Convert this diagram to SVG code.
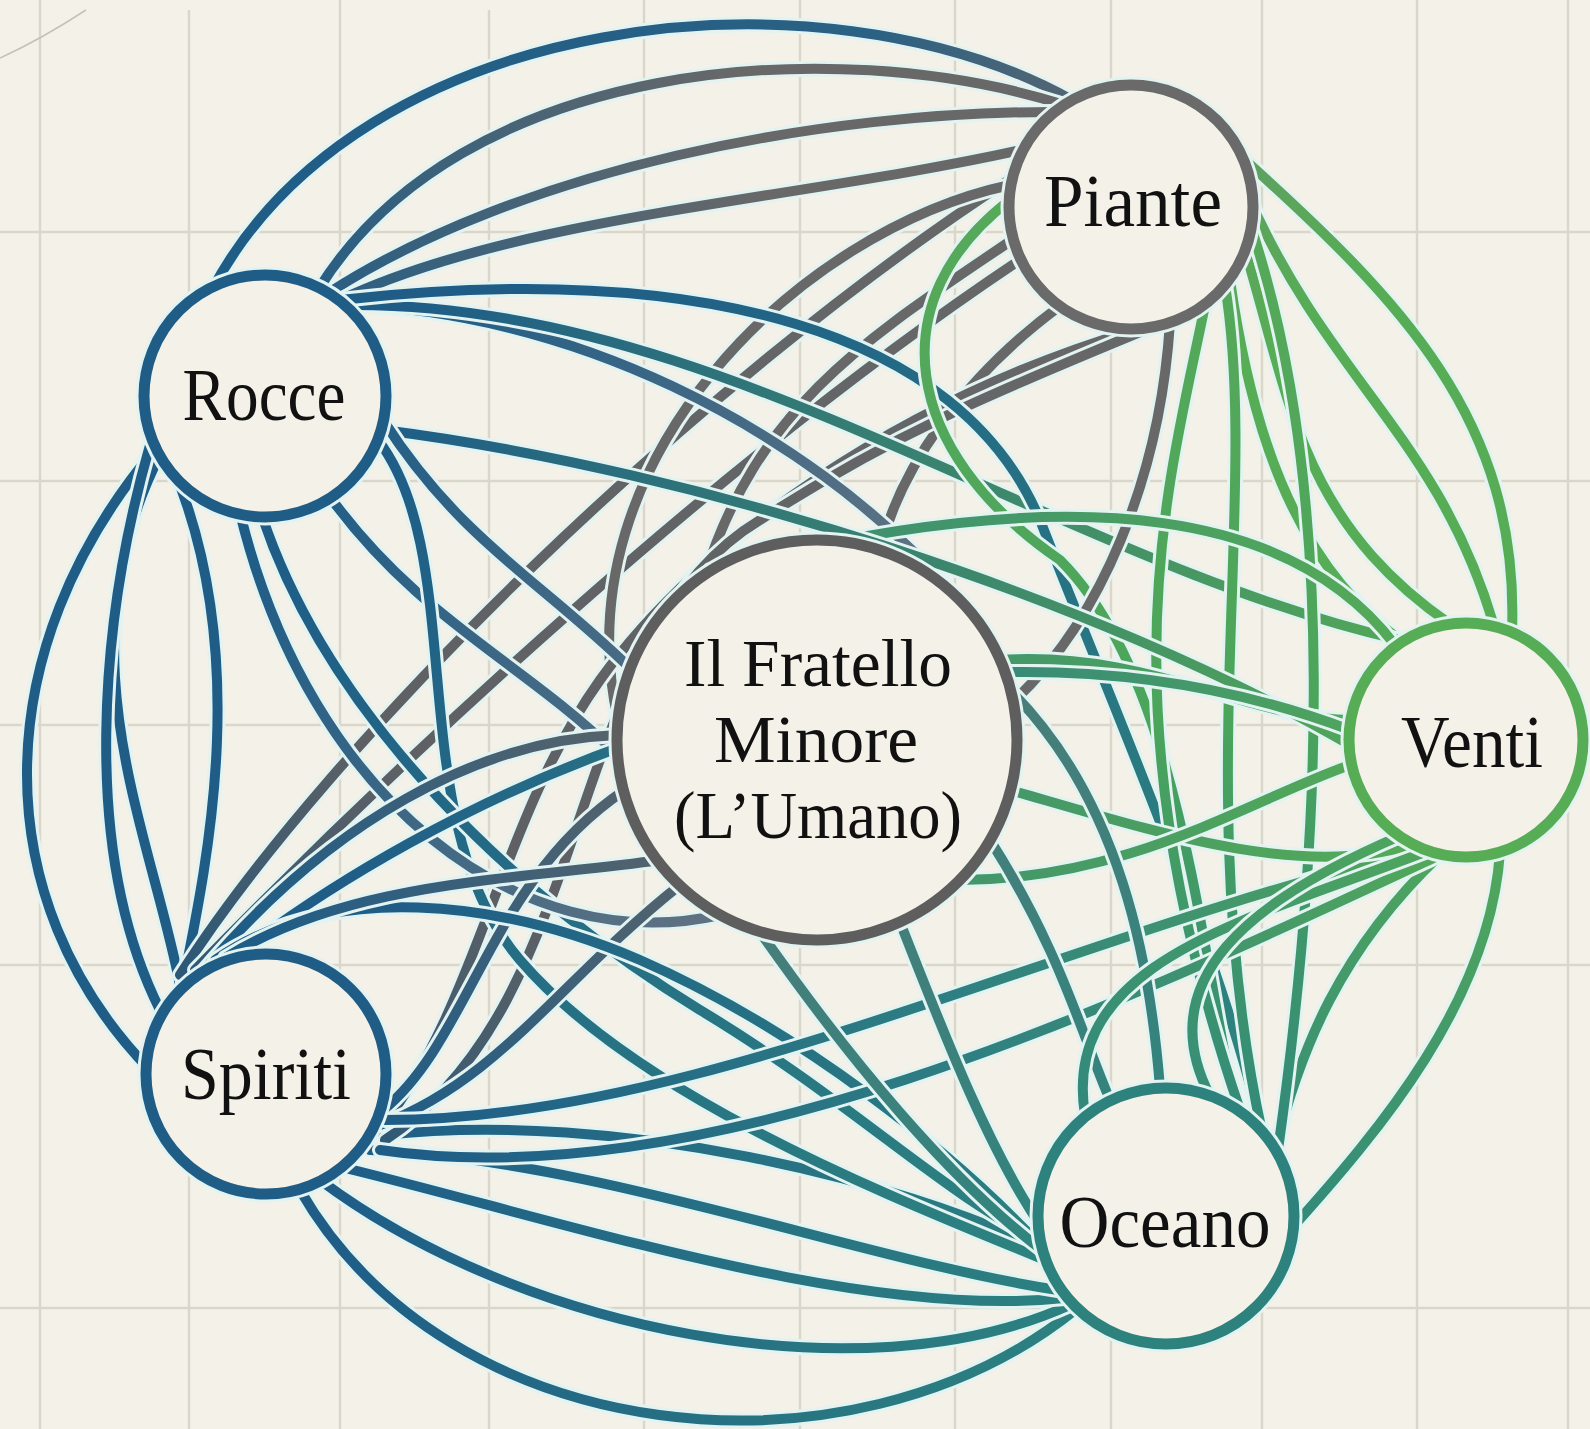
<svg xmlns="http://www.w3.org/2000/svg" width="1590" height="1429" viewBox="0 0 1590 1429">
<style>
.grid line{stroke:#d9d6cb;stroke-width:2.5}
.h{fill:none;stroke:#e3f3f1;stroke-width:16;stroke-linecap:round}
.s{fill:none;stroke-width:10;stroke-linecap:round}
.halo{fill:none;stroke:#e3f3f1;stroke-width:17}
.ring{fill:#f4f2e8;stroke-width:11}
.lbl{font-family:"Liberation Serif","Times New Roman",serif;font-size:74px;fill:#111;text-anchor:middle}
.cl{font-size:68px}
</style>
<defs>
<linearGradient id="gRP" gradientUnits="userSpaceOnUse" x1="265" y1="396" x2="1131" y2="207"><stop offset="0" stop-color="#1f5d87"/><stop offset="0.6" stop-color="#686868"/></linearGradient>
<linearGradient id="gRP2" gradientUnits="userSpaceOnUse" x1="265" y1="396" x2="1131" y2="207"><stop offset="0" stop-color="#1f5d87"/><stop offset="0.75" stop-color="#2a6184"/><stop offset="1" stop-color="#5a6670"/></linearGradient>
<linearGradient id="gRC" gradientUnits="userSpaceOnUse" x1="265" y1="396" x2="817" y2="740"><stop offset="0.1" stop-color="#1f5d87"/><stop offset="1" stop-color="#5f7282"/></linearGradient>
<linearGradient id="gRV" gradientUnits="userSpaceOnUse" x1="265" y1="396" x2="1466" y2="740"><stop offset="0.1" stop-color="#1f5d87"/><stop offset="1" stop-color="#57ad55"/></linearGradient>
<linearGradient id="gRO" gradientUnits="userSpaceOnUse" x1="265" y1="396" x2="1166" y2="1216"><stop offset="0.1" stop-color="#1f5d87"/><stop offset="1" stop-color="#2e857f"/></linearGradient>
<linearGradient id="gSO" gradientUnits="userSpaceOnUse" x1="266" y1="1074" x2="1166" y2="1216"><stop offset="0.1" stop-color="#1f5d87"/><stop offset="1" stop-color="#2e857f"/></linearGradient>
<linearGradient id="gSV" gradientUnits="userSpaceOnUse" x1="266" y1="1074" x2="1466" y2="740"><stop offset="0.1" stop-color="#1f5d87"/><stop offset="0.55" stop-color="#2e7f82"/><stop offset="1" stop-color="#57ad55"/></linearGradient>
<linearGradient id="gSC" gradientUnits="userSpaceOnUse" x1="266" y1="1074" x2="817" y2="740"><stop offset="0.1" stop-color="#1f5d87"/><stop offset="0.9" stop-color="#646464"/></linearGradient>
<linearGradient id="gSP" gradientUnits="userSpaceOnUse" x1="266" y1="1074" x2="1131" y2="207"><stop offset="0" stop-color="#2a5878"/><stop offset="0.25" stop-color="#5e6064"/><stop offset="1" stop-color="#686868"/></linearGradient>
<linearGradient id="gPV" gradientUnits="userSpaceOnUse" x1="1131" y1="207" x2="1466" y2="740"><stop offset="0" stop-color="#5f9f62"/><stop offset="0.3" stop-color="#57ad55"/><stop offset="1" stop-color="#57ad55"/></linearGradient>
<linearGradient id="gPO" gradientUnits="userSpaceOnUse" x1="1131" y1="207" x2="1166" y2="1216"><stop offset="0" stop-color="#57a95a"/><stop offset="0.5" stop-color="#4ba55a"/><stop offset="1" stop-color="#2e857f"/></linearGradient>
<linearGradient id="gCV" gradientUnits="userSpaceOnUse" x1="817" y1="740" x2="1466" y2="740"><stop offset="0" stop-color="#3d8f70"/><stop offset="1" stop-color="#57ad55"/></linearGradient>
<linearGradient id="gCO" gradientUnits="userSpaceOnUse" x1="817" y1="740" x2="1166" y2="1216"><stop offset="0" stop-color="#4d7c78"/><stop offset="1" stop-color="#2e857f"/></linearGradient>
<linearGradient id="gVO" gradientUnits="userSpaceOnUse" x1="1466" y1="740" x2="1166" y2="1216"><stop offset="0" stop-color="#57ad55"/><stop offset="1" stop-color="#2e857f"/></linearGradient>

<path id="e1" d="M 212 290 C 360 10, 820 -40, 1072 100"/>
<path id="e2" d="M 318 290 C 460 60, 830 30, 1068 106"/>
<path id="e3" d="M 330 292 C 520 170, 820 110, 1064 112"/>
<path id="e4" d="M 340 300 C 520 215, 800 200, 1030 148"/>
<path id="e5" d="M 345 305 C 560 310, 800 420, 955 595"/>
<path id="e6" d="M 383 420 C 460 540, 540 580, 630 668"/>
<path id="e7" d="M 330 497 C 420 620, 520 660, 618 755"/>
<path id="e8" d="M 240 513 C 310 800, 520 960, 720 915"/>
<path id="e9" d="M 345 305 C 720 300, 1050 560, 1400 640"/>
<path id="e10" d="M 383 430 C 700 470, 1100 600, 1350 745"/>
<path id="e11" d="M 340 300 C 700 260, 960 330, 1040 520 C 1110 700, 1220 950, 1262 1132"/>
<path id="e12" d="M 378 440 C 470 560, 400 820, 520 960 C 640 1100, 900 1200, 1045 1260"/>
<path id="e13" d="M 262 516 C 330 720, 520 900, 700 1010 C 850 1100, 950 1200, 1040 1240"/>
<path id="e14" d="M 156 448 C -15 650, -15 900, 150 1070"/>
<path id="e15" d="M 160 455 C 60 650, 150 830, 180 985"/>
<path id="e16" d="M 172 465 C 250 650, 210 850, 183 983"/>
<path id="e17" d="M 150 445 C 100 620, 80 850, 160 1010"/>
<path id="e18" d="M 300 1190 C 450 1450, 850 1490, 1075 1310"/>
<path id="e19" d="M 320 1180 C 520 1330, 860 1400, 1070 1305"/>
<path id="e20" d="M 345 1168 C 560 1220, 860 1320, 1064 1298"/>
<path id="e21" d="M 370 1150 C 600 1160, 860 1260, 1058 1290"/>
<path id="e22" d="M 383 1135 C 620 1110, 900 1180, 1045 1250"/>
<path id="e23" d="M 385 1120 C 700 1120, 1050 940, 1420 850"/>
<path id="e24" d="M 380 1150 C 720 1200, 1150 990, 1440 855"/>
<path id="e25" d="M 200 985 C 420 800, 900 560, 1350 730"/>
<path id="e26" d="M 383 1110 C 470 1040, 490 880, 625 790"/>
<path id="e27" d="M 380 1125 C 500 1080, 560 980, 680 885"/>
<path id="e28" d="M 200 975 C 330 820, 480 740, 617 735"/>
<path id="e29" d="M 180 975 C 330 740, 700 380, 1012 178"/>
<path id="e30" d="M 195 970 C 400 760, 720 460, 1020 260"/>
<path id="e31" d="M 383 1125 C 480 1000, 500 820, 600 680 C 700 540, 900 400, 1135 330"/>
<path id="e32" d="M 385 1140 C 600 1000, 560 640, 760 520 C 900 430, 1000 390, 1150 328"/>
<path id="e33" d="M 1012 240 C 880 330, 760 400, 705 575"/>
<path id="e34" d="M 1170 322 C 1160 480, 1100 620, 1015 700"/>
<path id="e35" d="M 1060 306 C 960 380, 900 470, 880 550"/>
<path id="e36" d="M 618 720 C 560 460, 800 230, 1010 185"/>
<path id="e37" d="M 1245 160 C 1400 300, 1520 420, 1512 632"/>
<path id="e38" d="M 1250 200 C 1330 380, 1440 440, 1494 626"/>
<path id="e39" d="M 1245 250 C 1290 400, 1300 520, 1450 624"/>
<path id="e40" d="M 1230 280 C 1250 420, 1290 560, 1400 640"/>
<path id="e41" d="M 1225 285 C 1260 500, 1190 800, 1262 1132"/>
<path id="e42" d="M 1205 305 C 1170 480, 1100 700, 1240 1110"/>
<path id="e43" d="M 1252 230 C 1340 500, 1320 850, 1278 1150"/>
<path id="e44" d="M 1010 200 C 880 300, 900 450, 1060 560 C 1180 680, 1200 950, 1235 1105"/>
<path id="e45" d="M 1352 720 C 1250 720, 1150 650, 1000 660"/>
<path id="e46" d="M 1395 645 C 1300 520, 1100 470, 710 570"/>
<path id="e47" d="M 1410 845 C 1300 880, 1150 830, 1010 790"/>
<path id="e48" d="M 1350 765 C 1250 800, 1130 880, 960 880"/>
<path id="e49" d="M 990 840 C 1060 950, 1080 1030, 1110 1100"/>
<path id="e50" d="M 900 922 C 950 1050, 990 1150, 1040 1225"/>
<path id="e51" d="M 760 932 C 850 1060, 950 1180, 1042 1250"/>
<path id="e52" d="M 1010 690 C 1120 800, 1150 960, 1160 1088"/>
<path id="e53" d="M 1500 852 C 1490 1000, 1380 1130, 1292 1228"/>
<path id="e54" d="M 1440 855 C 1340 950, 1300 1050, 1275 1150"/>
<path id="e55" d="M 1430 850 C 1250 920, 1060 960, 1085 1115"/>
<path id="e56" d="M 1400 836 C 1250 900, 1150 980, 1210 1096"/>
<path id="e57" d="M 215 960 C 330 880, 500 900, 640 960 C 800 1030, 950 1150, 1040 1245"/>
<path id="e58" d="M 225 958 C 350 880, 520 880, 660 860"/>
</defs>

<rect width="1590" height="1429" fill="#f4f2e8"/>
<g class="grid">
<line x1="40" y1="0" x2="40" y2="1429"/><line x1="189" y1="10" x2="189" y2="1429"/><line x1="340" y1="0" x2="340" y2="1429"/><line x1="489" y1="10" x2="489" y2="1429"/><line x1="644" y1="0" x2="644" y2="1429"/><line x1="800" y1="0" x2="800" y2="1429"/><line x1="955" y1="0" x2="955" y2="1429"/><line x1="1111" y1="0" x2="1111" y2="1429"/><line x1="1262" y1="0" x2="1262" y2="1429"/><line x1="1417" y1="0" x2="1417" y2="1429"/><line x1="1568" y1="0" x2="1568" y2="1429"/>
<line x1="0" y1="232" x2="1590" y2="232"/><line x1="0" y1="481" x2="1590" y2="481"/><line x1="0" y1="725" x2="1590" y2="725"/><line x1="0" y1="965" x2="1590" y2="965"/><line x1="0" y1="1308" x2="1590" y2="1308"/>
</g>
<path d="M 0 58 Q 40 40 86 10" fill="none" stroke="#c4c1b6" stroke-width="1.5"/>

<g id="connectors">
<use href="#e1" class="h"/><use href="#e1" class="s" stroke="url(#gRP2)"/>
<use href="#e2" class="h"/><use href="#e2" class="s" stroke="url(#gRP)"/>
<use href="#e3" class="h"/><use href="#e3" class="s" stroke="url(#gRP)"/>
<use href="#e4" class="h"/><use href="#e4" class="s" stroke="url(#gRP)"/>
<use href="#e14" class="h"/><use href="#e14" class="s" stroke="#1f5d87"/>
<use href="#e15" class="h"/><use href="#e15" class="s" stroke="#1f5d87"/>
<use href="#e16" class="h"/><use href="#e16" class="s" stroke="#1f5d87"/>
<use href="#e17" class="h"/><use href="#e17" class="s" stroke="#1f5d87"/>
<use href="#e18" class="h"/><use href="#e18" class="s" stroke="url(#gSO)"/>
<use href="#e19" class="h"/><use href="#e19" class="s" stroke="url(#gSO)"/>
<use href="#e20" class="h"/><use href="#e20" class="s" stroke="url(#gSO)"/>
<use href="#e21" class="h"/><use href="#e21" class="s" stroke="url(#gSO)"/>
<use href="#e22" class="h"/><use href="#e22" class="s" stroke="url(#gSO)"/>
<use href="#e37" class="h"/><use href="#e37" class="s" stroke="url(#gPV)"/>
<use href="#e38" class="h"/><use href="#e38" class="s" stroke="url(#gPV)"/>
<use href="#e39" class="h"/><use href="#e39" class="s" stroke="url(#gPV)"/>
<use href="#e40" class="h"/><use href="#e40" class="s" stroke="url(#gPV)"/>
<use href="#e53" class="h"/><use href="#e53" class="s" stroke="url(#gVO)"/>
<use href="#e54" class="h"/><use href="#e54" class="s" stroke="url(#gVO)"/>
<use href="#e29" class="h"/><use href="#e29" class="s" stroke="url(#gSP)"/>
<use href="#e30" class="h"/><use href="#e30" class="s" stroke="url(#gSP)"/>
<use href="#e33" class="h"/><use href="#e33" class="s" stroke="#686868"/>
<use href="#e36" class="h"/><use href="#e36" class="s" stroke="#686868"/>
<use href="#e35" class="h"/><use href="#e35" class="s" stroke="#686868"/>
<use href="#e31" class="h"/><use href="#e31" class="s" stroke="url(#gSP)"/>
<use href="#e32" class="h"/><use href="#e32" class="s" stroke="url(#gSP)"/>
<use href="#e5" class="h"/><use href="#e5" class="s" stroke="url(#gRC)"/>
<use href="#e9" class="h"/><use href="#e9" class="s" stroke="url(#gRV)"/>
<use href="#e11" class="h"/><use href="#e11" class="s" stroke="url(#gRO)"/>
<use href="#e44" class="h"/><use href="#e44" class="s" stroke="url(#gPO)"/>
<use href="#e41" class="h"/><use href="#e41" class="s" stroke="url(#gPO)"/>
<use href="#e42" class="h"/><use href="#e42" class="s" stroke="url(#gPO)"/>
<use href="#e43" class="h"/><use href="#e43" class="s" stroke="url(#gPO)"/>
<use href="#e34" class="h"/><use href="#e34" class="s" stroke="#686868"/>
<use href="#e46" class="h"/><use href="#e46" class="s" stroke="url(#gCV)"/>
<use href="#e45" class="h"/><use href="#e45" class="s" stroke="url(#gCV)"/>
<use href="#e10" class="h"/><use href="#e10" class="s" stroke="url(#gRV)"/>
<use href="#e6" class="h"/><use href="#e6" class="s" stroke="url(#gRC)"/>
<use href="#e7" class="h"/><use href="#e7" class="s" stroke="url(#gRC)"/>
<use href="#e12" class="h"/><use href="#e12" class="s" stroke="url(#gRO)"/>
<use href="#e13" class="h"/><use href="#e13" class="s" stroke="url(#gRO)"/>
<use href="#e8" class="h"/><use href="#e8" class="s" stroke="url(#gRC)"/>
<use href="#e25" class="h"/><use href="#e25" class="s" stroke="url(#gSV)"/>
<use href="#e28" class="h"/><use href="#e28" class="s" stroke="url(#gSC)"/>
<use href="#e26" class="h"/><use href="#e26" class="s" stroke="url(#gSC)"/>
<use href="#e27" class="h"/><use href="#e27" class="s" stroke="url(#gSC)"/>
<use href="#e57" class="h"/><use href="#e57" class="s" stroke="url(#gSO)"/>
<use href="#e58" class="h"/><use href="#e58" class="s" stroke="url(#gSC)"/>
<use href="#e23" class="h"/><use href="#e23" class="s" stroke="url(#gSV)"/>
<use href="#e24" class="h"/><use href="#e24" class="s" stroke="url(#gSV)"/>
<use href="#e47" class="h"/><use href="#e47" class="s" stroke="url(#gCV)"/>
<use href="#e48" class="h"/><use href="#e48" class="s" stroke="url(#gCV)"/>
<use href="#e49" class="h"/><use href="#e49" class="s" stroke="url(#gCO)"/>
<use href="#e50" class="h"/><use href="#e50" class="s" stroke="url(#gCO)"/>
<use href="#e51" class="h"/><use href="#e51" class="s" stroke="url(#gCO)"/>
<use href="#e52" class="h"/><use href="#e52" class="s" stroke="url(#gCO)"/>
<use href="#e55" class="h"/><use href="#e55" class="s" stroke="url(#gVO)"/>
<use href="#e56" class="h"/><use href="#e56" class="s" stroke="url(#gVO)"/>
</g>

<g id="node-piante"><circle class="halo" cx="1131" cy="207" r="122"/><circle class="ring" cx="1131" cy="207" r="122" stroke="#6a6a6a"/><text class="lbl" x="1133" y="226" textLength="178" lengthAdjust="spacingAndGlyphs">Piante</text></g>
<g id="node-rocce"><circle class="halo" cx="265" cy="396" r="121"/><circle class="ring" cx="265" cy="396" r="121" stroke="#1f5d87"/><text class="lbl" x="264" y="420" textLength="163" lengthAdjust="spacingAndGlyphs">Rocce</text></g>
<g id="node-venti"><circle class="halo" cx="1466" cy="740" r="117"/><circle class="ring" cx="1466" cy="740" r="117" stroke="#57ad55"/><text class="lbl" x="1472" y="767" textLength="142" lengthAdjust="spacingAndGlyphs">Venti</text></g>
<g id="node-spiriti"><circle class="halo" cx="266" cy="1074" r="120"/><circle class="ring" cx="266" cy="1074" r="120" stroke="#1f5d87"/><text class="lbl" x="266" y="1099" textLength="170" lengthAdjust="spacingAndGlyphs">Spiriti</text></g>
<g id="node-oceano"><circle class="halo" cx="1166" cy="1216" r="128"/><circle class="ring" cx="1166" cy="1216" r="128" stroke="#2e827e"/><text class="lbl" x="1165" y="1247" textLength="211" lengthAdjust="spacingAndGlyphs">Oceano</text></g>
<g id="node-fratello"><circle class="halo" cx="817" cy="740" r="200" stroke-width="20"/><circle class="ring" cx="817" cy="740" r="200" stroke="#5e5e5e" stroke-width="13"/>
<text class="lbl cl" x="818" y="686" textLength="268" lengthAdjust="spacingAndGlyphs">Il Fratello</text>
<text class="lbl cl" x="816" y="762" textLength="204" lengthAdjust="spacingAndGlyphs">Minore</text>
<text class="lbl cl" x="818" y="838" textLength="288" lengthAdjust="spacingAndGlyphs">(L’Umano)</text></g>
</svg>
